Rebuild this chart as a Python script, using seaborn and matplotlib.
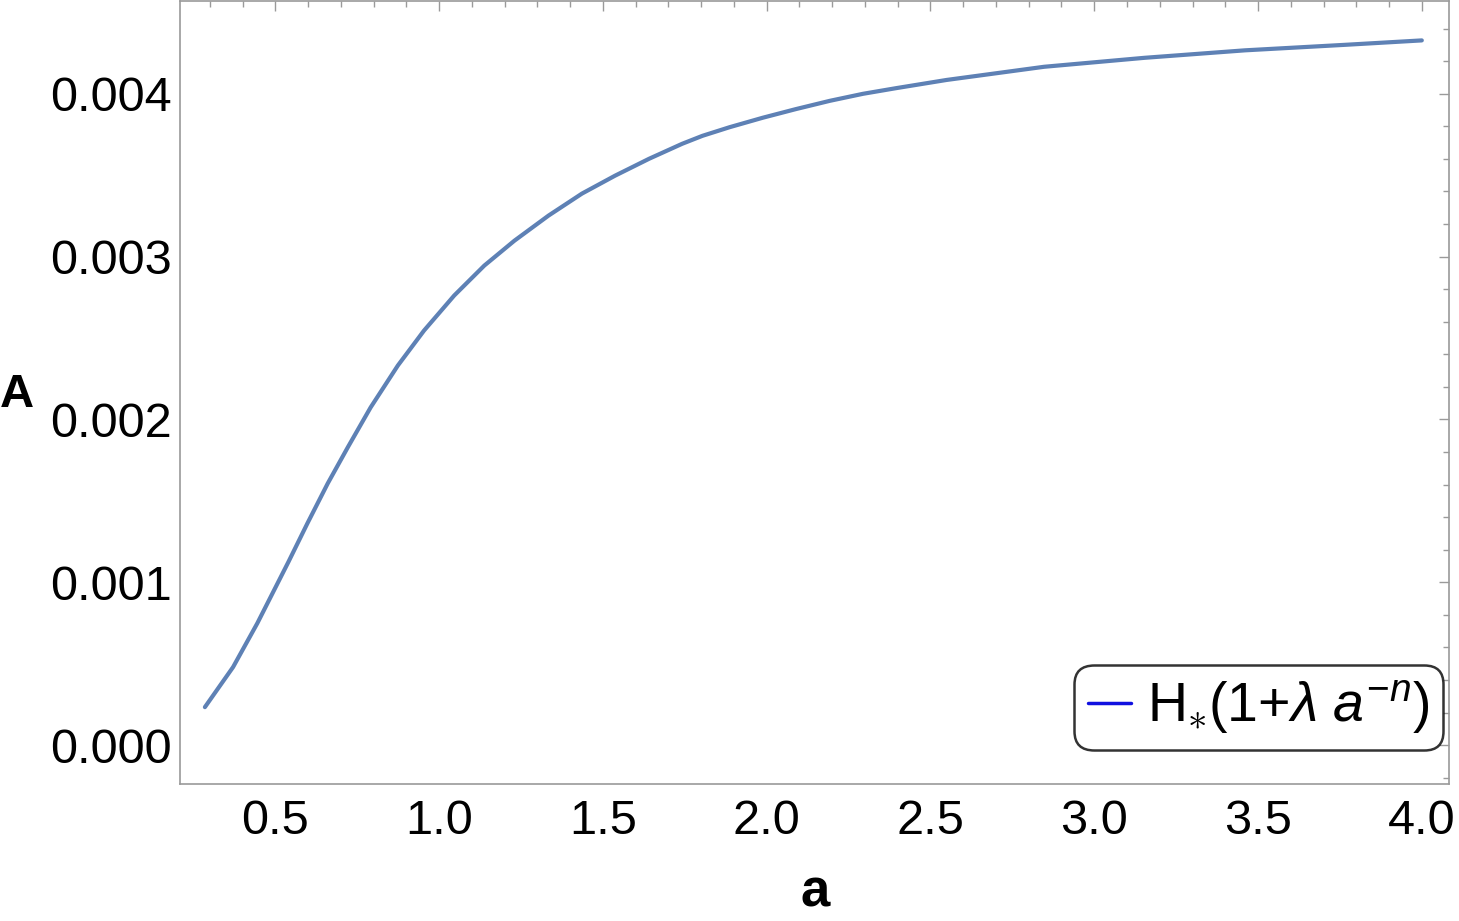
import matplotlib
matplotlib.use("Agg")
import matplotlib.pyplot as plt
from matplotlib.lines import Line2D
from matplotlib.ticker import MultipleLocator, FormatStrFormatter
import seaborn as sns
import pandas as pd

a_vals = [0.285, 0.371, 0.445, 0.540, 0.598, 0.660, 0.721, 0.791, 0.874, 0.954,
          1.046, 1.138, 1.230, 1.334, 1.436, 1.537, 1.641, 1.742, 1.804, 1.887,
          1.988, 2.089, 2.193, 2.294, 2.396, 2.549, 2.847, 3.153, 3.460, 3.767,
          4.000]
A_vals = [0.233, 0.479, 0.748, 1.125, 1.362, 1.607, 1.828, 2.074, 2.331, 2.546,
          2.761, 2.945, 3.098, 3.252, 3.387, 3.497, 3.601, 3.693, 3.742, 3.795,
          3.853, 3.906, 3.957, 4.000, 4.035, 4.085, 4.166, 4.221, 4.267, 4.301,
          4.328]
A_vals = [v * 1e-3 for v in A_vals]
x_ticks = [0.5, 1.0, 1.5, 2.0, 2.5, 3.0, 3.5, 4.0]
y_ticks = [0.000, 0.001, 0.002, 0.003, 0.004]
legend_label = r'H$_{\ast}$(1+$\lambda$ $a^{-n}$)'

sns.set_style("white")
plt.rcParams['font.family'] = ['Liberation Sans', 'DejaVu Sans']
plt.rcParams['text.color'] = 'black'
plt.rcParams['mathtext.fontset'] = 'custom'
plt.rcParams['mathtext.rm'] = 'Liberation Sans'
plt.rcParams['mathtext.it'] = 'Liberation Sans:italic'
plt.rcParams['mathtext.bf'] = 'Liberation Sans:bold'

df = pd.DataFrame({"a": a_vals, "A": A_vals})

fig = plt.figure(figsize=(14.59, 9.21), dpi=100)
ax = fig.add_axes([180/1459, (921-784)/921, (1449-180)/1459, 783/921])

sns.lineplot(data=df, x="a", y="A", ax=ax, color="#5E81B5", linewidth=3.0)

ax.set_xlim(0.209, 4.083)
ax.set_ylim(-0.000239, 0.00457)

ax.set_xticks(x_ticks)
ax.set_yticks(y_ticks)
ax.xaxis.set_major_formatter(FormatStrFormatter('%.1f'))
ax.yaxis.set_major_formatter(FormatStrFormatter('%.3f'))
ax.xaxis.set_minor_locator(MultipleLocator(0.1))
ax.yaxis.set_minor_locator(MultipleLocator(0.0002))

frame_col = "#9a9a9a"
for s in ax.spines.values():
    s.set_color(frame_col)
    s.set_linewidth(1.2)
    s.set_visible(True)

ax.tick_params(which='both', direction='in', top=True, right=True,
               color=frame_col, width=1.0)
ax.tick_params(which='major', length=7)
ax.tick_params(which='minor', length=4)
ax.tick_params(axis='x', which='major', labelsize=35, pad=11, labelcolor='black')
ax.tick_params(axis='y', which='major', labelsize=35, pad=6, labelcolor='black')

ax.set_xlabel("")
ax.set_ylabel("")
fig.text(17/1459, 1 - 395/921, "A", fontsize=34, fontweight='bold',
         ha='center', va='center', color='black')
fig.text(815/1459, 1 - 892/921, "a", fontsize=38, fontweight='bold',
         ha='center', va='center', color='black')

handle = Line2D([0], [0], color='#1010e0', linewidth=2.5)
leg = ax.legend([handle], [legend_label], loc='lower right',
                fontsize=40, frameon=True, fancybox=True, handlelength=0.78,
                handletextpad=0.28, borderpad=0.25, borderaxespad=0)
leg.set_bbox_to_anchor((1443/1459, (921-750)/921), transform=fig.transFigure)
for t in leg.get_texts():
    t.set_color('black')
fr = leg.get_frame()
fr.set_edgecolor('black')
fr.set_linewidth(1.8)
fr.set_boxstyle('round', pad=0.0, rounding_size=0.35)

fig.savefig("out.png", dpi=100, facecolor='white')
